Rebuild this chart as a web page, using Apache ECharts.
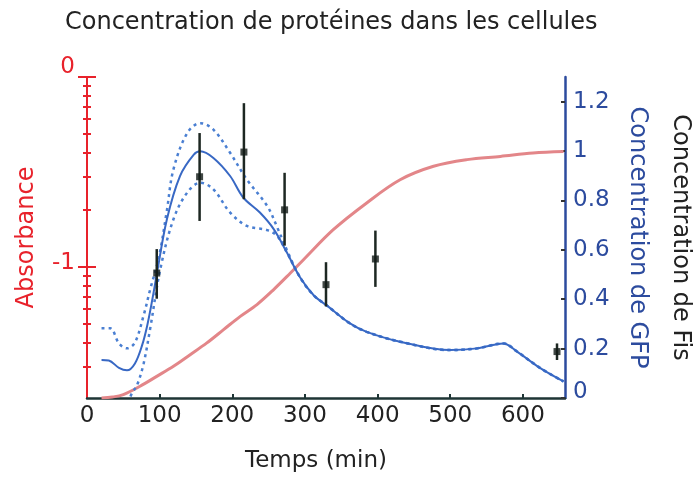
<!DOCTYPE html>
<html>
<head>
<meta charset="utf-8">
<script src="https://cdn.jsdelivr.net/npm/echarts@6/dist/echarts.min.js"></script>
<style>
  html, body { margin: 0; padding: 0; background: #fff; }
  #chart { width: 694px; height: 478px; }
</style>
</head>
<body>
<div id="chart"></div>
<script>
// Time axis (minutes)
const timeTicks = [0, 100, 200, 300, 400, 500, 600];

// Absorbance, plotted as log10 values on the left axis
const absTime  = [20, 35, 50, 73, 96, 119, 142, 165, 188, 211, 234, 257, 280, 298, 339, 385, 431, 477, 523, 569, 614, 656];
const absLog10 = [-1.69, -1.685, -1.672, -1.628, -1.576, -1.523, -1.462, -1.400, -1.330, -1.260, -1.198, -1.119, -1.032, -0.962, -0.804, -0.663, -0.541, -0.470, -0.435, -0.418, -0.400, -0.392];
const absDecades = [0, -1];
const absMinorValues = [0.9, 0.8, 0.7, 0.6, 0.5, 0.4, 0.3, 0.2, 0.09, 0.08, 0.07, 0.06, 0.05, 0.04, 0.03];

// GFP concentration: mean curve and confidence band
const gfpTime = [20, 30, 44, 55, 66, 76, 83, 90, 96, 110, 128, 147, 156, 174, 197, 215, 238, 257, 275, 293, 312, 330, 362, 385, 431, 500, 537, 573, 592, 624, 656];
const gfpMean = [0.154, 0.152, 0.122, 0.112, 0.14, 0.215, 0.295, 0.40, 0.50, 0.724, 0.899, 0.986, 0.999, 0.972, 0.899, 0.812, 0.751, 0.684, 0.59, 0.49, 0.416, 0.375, 0.302, 0.268, 0.228, 0.194, 0.201, 0.221, 0.188, 0.121, 0.067];
const upperTime = [20, 32, 44, 55, 66, 78, 87, 99, 110, 119, 138, 156, 174, 197, 220, 248, 262, 275, 293, 312, 330, 362, 385, 431, 500, 537, 573, 592, 624, 656];
const gfpUpper  = [0.282, 0.282, 0.221, 0.201, 0.225, 0.335, 0.44, 0.57, 0.76, 0.926, 1.073, 1.113, 1.087, 0.993, 0.885, 0.778, 0.69, 0.60, 0.49, 0.416, 0.375, 0.302, 0.268, 0.228, 0.194, 0.201, 0.221, 0.188, 0.121, 0.067];
const lowerTime = [56, 62, 69, 78, 87, 101, 119, 138, 156, 174, 197, 220, 248, 262, 275, 293, 312, 330, 362, 385, 431, 500, 537, 573, 592, 624, 656];
const gfpLower  = [-0.02, 0.02, 0.053, 0.14, 0.282, 0.523, 0.724, 0.832, 0.872, 0.845, 0.751, 0.697, 0.68, 0.655, 0.59, 0.49, 0.416, 0.375, 0.302, 0.268, 0.228, 0.194, 0.201, 0.221, 0.188, 0.121, 0.067];
const gfpTicks = [0, 0.2, 0.4, 0.6, 0.8, 1, 1.2];

// Fis concentration measurements with error bars
const fisTime = [96, 155, 216, 272, 329, 397, 647];
const fisMean = [0.506, 0.896, 0.996, 0.762, 0.459, 0.563, 0.188];
const fisLow  = [0.402, 0.717, 0.805, 0.617, 0.371, 0.450, 0.154];
const fisHigh = [0.603, 1.073, 1.194, 0.912, 0.550, 0.678, 0.221];

const zip = (xs, ys) => xs.map((x, i) => [x, ys[i]]);

const FONT = 'DejaVu Sans';
const RED = '#e8222b';
const BLUE = '#2c4b9e';
const LINE_BLUE = '#3868c4';

const absMinorLog = absMinorValues.map(v => Math.log10(v));
const absRange = { min: -1.69, max: 0 };

function leftTickAxis(values, length, inside) {
  return Object.assign({
    type: 'value', position: 'left', offset: 0,
    axisLine: { show: false },
    axisLabel: { show: false },
    splitLine: { show: false },
    axisTick: { show: true, inside: inside, length: length, customValues: values,
                lineStyle: { color: RED, width: 2 } }
  }, absRange);
}

const chart = echarts.init(document.getElementById('chart'), null, { renderer: 'canvas' });

chart.setOption({
  animation: false,
  backgroundColor: '#ffffff',
  textStyle: { fontFamily: FONT },
  title: {
    text: 'Concentration de protéines dans les cellules',
    left: 60, top: 6,
    textStyle: { fontFamily: FONT, fontSize: 24, fontWeight: 'normal', color: '#222' }
  },
  grid: { left: 87, right: 129, top: 77, bottom: 80, containLabel: false, outerBoundsMode: 'none' },
  xAxis: {
    type: 'value', min: 0, max: 658,
    name: 'Temps (min)', nameLocation: 'middle', nameGap: 52,
    nameTextStyle: { fontFamily: FONT, fontSize: 23, color: '#222', padding: [0, 20, 0, 0] },
    axisLine: { show: true, onZero: false, lineStyle: { color: '#1e3535', width: 2.5 } },
    axisTick: { show: true, inside: true, length: 4, customValues: timeTicks.slice(1),
                lineStyle: { color: '#1e3535', width: 2 } },
    axisLabel: { customValues: timeTicks, margin: 7, fontFamily: FONT, fontSize: 23, color: '#222' },
    splitLine: { show: false }
  },
  yAxis: [
    Object.assign({
      type: 'value', position: 'left',
      name: 'Absorbance', nameLocation: 'middle', nameGap: 48,
      nameTextStyle: { fontFamily: FONT, fontSize: 24, color: RED },
      axisLine: { show: true, lineStyle: { color: RED, width: 2 } },
      axisTick: { show: true, inside: false, length: 4, customValues: absMinorLog,
                  lineStyle: { color: RED, width: 2 } },
      axisLabel: {
        customValues: absDecades, margin: 12, fontFamily: FONT, fontSize: 23, color: RED,
        formatter: v => (v === 0 ? '{top|0}' : '{dec|' + v + '}'),
        rich: {
          top: { fontFamily: FONT, fontSize: 23, color: RED, padding: [0, 0, 20, 0] },
          dec: { fontFamily: FONT, fontSize: 23, color: RED, padding: [0, 0, 8, 0] }
        }
      },
      splitLine: { show: false }
    }, absRange),
    leftTickAxis(absMinorLog, 4, true),
    leftTickAxis(absDecades, 9, false),
    leftTickAxis(absDecades, 9, true),
    {
      type: 'value', position: 'right', min: 0, max: 1.3,
      name: 'Concentration de GFP', nameLocation: 'middle', nameRotate: -90, nameGap: 60,
      nameTextStyle: { fontFamily: FONT, fontSize: 24, color: BLUE },
      axisLine: { show: true, lineStyle: { color: BLUE, width: 2.5 } },
      axisTick: { show: true, inside: true, length: 4, customValues: gfpTicks,
                  lineStyle: { color: '#333', width: 2 } },
      axisLabel: {
        customValues: gfpTicks, margin: 8, fontFamily: FONT, fontSize: 23, color: BLUE,
        formatter: v => (v === 0 ? '{base|0}' : String(v)),
        rich: { base: { fontFamily: FONT, fontSize: 23, color: BLUE, padding: [0, 0, 12, 0] } }
      },
      splitLine: { show: false }
    },
    {
      type: 'value', position: 'right', min: 0, max: 1.3,
      name: 'Concentration de Fis', nameLocation: 'middle', nameRotate: -90, nameGap: 103,
      nameTextStyle: { fontFamily: FONT, fontSize: 24, color: '#222' },
      axisLine: { show: false }, axisTick: { show: false }, axisLabel: { show: false },
      splitLine: { show: false }
    }
  ],
  series: [
    {
      name: 'Absorbance', type: 'line', yAxisIndex: 0, smooth: 0.35, showSymbol: false, z: 2,
      data: zip(absTime, absLog10),
      lineStyle: { color: '#e38689', width: 3 }
    },
    {
      name: 'GFP haut', type: 'line', yAxisIndex: 4, smooth: 0.35, showSymbol: false, z: 3,
      data: zip(upperTime, gfpUpper),
      lineStyle: { color: '#4a7fd2', width: 2.5, type: [3, 4] }
    },
    {
      name: 'GFP bas', type: 'line', yAxisIndex: 4, smooth: 0.35, showSymbol: false, z: 3,
      data: zip(lowerTime, gfpLower),
      lineStyle: { color: '#4a7fd2', width: 2.5, type: [3, 4] }
    },
    {
      name: 'GFP', type: 'line', yAxisIndex: 4, smooth: 0.35, showSymbol: false, z: 4,
      data: zip(gfpTime, gfpMean),
      lineStyle: { color: LINE_BLUE, width: 2 }
    },
    {
      name: 'Fis erreur', type: 'custom', yAxisIndex: 5, z: 5,
      data: fisTime.map((t, i) => [t, fisLow[i], fisHigh[i]]),
      renderItem: (params, api) => {
        const a = api.coord([api.value(0), api.value(1)]);
        const b = api.coord([api.value(0), api.value(2)]);
        return {
          type: 'line',
          shape: { x1: a[0], y1: a[1], x2: b[0], y2: b[1] },
          style: { stroke: '#1d2722', lineWidth: 2.5 }
        };
      }
    },
    {
      name: 'Fis', type: 'scatter', yAxisIndex: 5, z: 6,
      symbol: 'rect', symbolSize: 7,
      data: zip(fisTime, fisMean),
      itemStyle: { color: '#111a16' }
    }
  ]
});
</script>
</body>
</html>
